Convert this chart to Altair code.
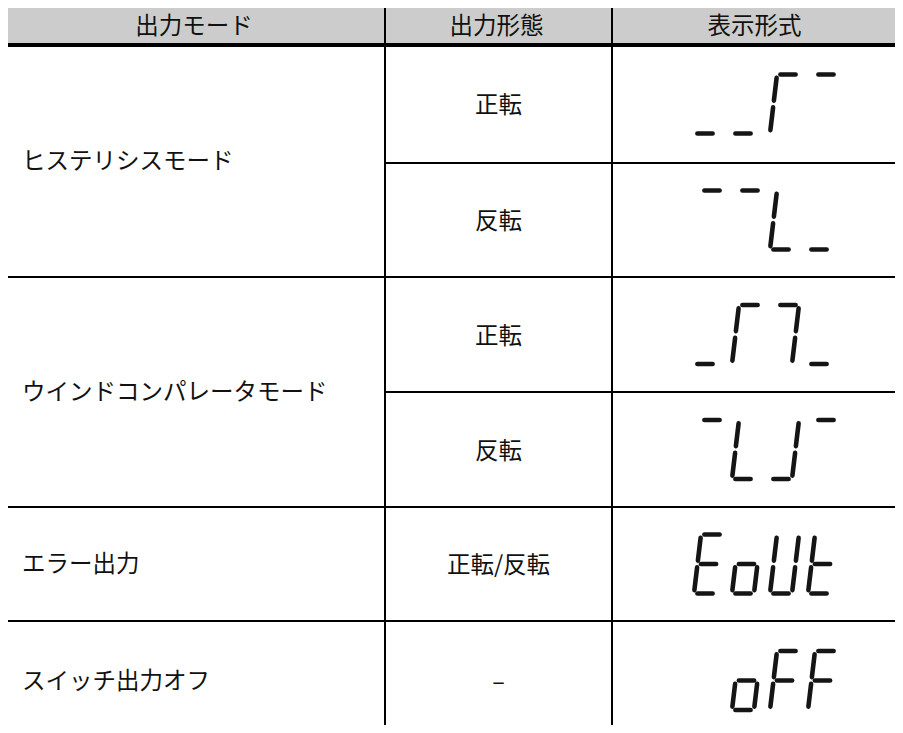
import math
import altair as alt
import pandas as pd

# ---------------- data ----------------
header_labels = ["出力モード", "出力形態", "表示形式"]
modes = ["ヒステリシスモード", "ウインドコンパレータモード", "エラー出力", "スイッチ出力オフ"]
mode_spans = [2, 2, 1, 1]          # how many sub-rows each mode covers
forms = ["正転", "反転", "正転", "反転", "正転/反転", "–"]
# lit segments (standard 7-segment names a-g) for the 4 digit positions of each display
displays = [
    ["d", "d", "aef", "a"],
    ["a", "a", "def", "d"],
    ["d", "aef", "abc", "d"],
    ["a", "def", "bcd", "a"],
    ["adefg", "cdeg", "bcdef", "defg"],
    ["", "cdeg", "aefg", "aefg"],
]

# ---------------- layout (page pixel coordinates) ----------------
COL_X = [7, 385, 612, 901]
HEAD_TOP, HEAD_BOT = 6, 45
ROW_EDGES = [45, 163, 277, 392, 507, 621, 740]
TABLE_BOTTOM = 740
FONT = "Noto Sans CJK JP"
FS = 23.5

# sub-row spans
form_rows = [(ROW_EDGES[i], ROW_EDGES[i + 1]) for i in range(len(forms))]
mode_rows = []
idx = 0
for sp in mode_spans:
    mode_rows.append((ROW_EDGES[idx], ROW_EDGES[idx + sp]))
    idx += sp

# ---------------- tables for marks ----------------
header_df = pd.DataFrame({
    "text": header_labels,
    "x": [(COL_X[i] + COL_X[i + 1]) / 2 - 2 for i in range(3)],
    "y": [(HEAD_TOP + HEAD_BOT) / 2 + 1] * 3,
})
mode_df = pd.DataFrame({
    "text": modes,
    "x": [22] * len(modes),
    "y": [(a + b) / 2 + 1 for a, b in mode_rows],
})
form_df = pd.DataFrame({
    "text": forms,
    "x": [(COL_X[1] + COL_X[2]) / 2] * len(forms),
    "y": [(a + b) / 2 + 2 for a, b in form_rows],
})

rules = []
rules.append((COL_X[0], COL_X[3], HEAD_TOP, HEAD_TOP, 2))
rules.append((COL_X[0], COL_X[3], HEAD_BOT, HEAD_BOT, 4))
for cx in COL_X[:3]:
    rules.append((cx, cx, HEAD_TOP, TABLE_BOTTOM, 2))
mode_bounds = set(b for _, b in mode_rows)
for _, b in form_rows[:-1]:
    if b in mode_bounds:
        rules.append((COL_X[0], COL_X[3], b, b, 2))
    else:
        rules.append((COL_X[1], COL_X[3], b, b, 2))
rules_df = pd.DataFrame(rules, columns=["x", "x2", "y", "y2", "w"])

head_rect_df = pd.DataFrame({"x": [COL_X[0]], "x2": [COL_X[3]], "y": [HEAD_TOP], "y2": [HEAD_BOT]})

# 7-segment geometry
H = 59.0
WC = 22.0
L = 2.0
SL = 7.0
GAP = 1.2
TAPER = 2.2
TH = 4.6
PITCH = 38.0
X0 = 692.0
ends = {
    "a": ((L, H), (L + WC, H)),
    "b": ((L + WC, H), (L + WC, H / 2)),
    "c": ((L + WC, H / 2), (L + WC, 0)),
    "d": ((L, 0), (L + WC, 0)),
    "e": ((L, 0), (L, H / 2)),
    "f": ((L, H / 2), (L, H)),
    "g": ((L, H / 2), (L + WC, H / 2)),
}
seg_rows = []
sid = 0
for r, chars in enumerate(displays):
    ya, yb = form_rows[r]
    yc = (ya + yb) / 2
    for i, segs in enumerate(chars):
        x0 = X0 + PITCH * i
        for s in segs:
            (ax, ay), (bx, by) = ends[s]
            dx, dy = bx - ax, by - ay
            ln = math.hypot(dx, dy)
            ux, uy = dx / ln, dy / ln
            pts = [(GAP, 0.7), (GAP + TAPER, TH), (ln - GAP - TAPER, TH), (ln - GAP, 0.7)]
            for k, (dist, w) in enumerate(pts):
                lx = ax + ux * dist
                ly = ay + uy * dist
                seg_rows.append({
                    "sid": sid, "k": k,
                    "x": x0 + lx + SL * ly / H,
                    "y": yc + H / 2 - ly,
                    "w": w,
                })
            sid += 1
seg_df = pd.DataFrame(seg_rows)

# ---------------- chart ----------------
# 1 data unit = 1 page pixel; the page margin is 8px
PW, PH = 887, 717
xs = alt.Scale(domain=[8, 8 + PW], nice=False, zero=False)
ys = alt.Scale(domain=[8, 8 + PH], nice=False, zero=False, reverse=True)
X = alt.X("x:Q", scale=xs, axis=None)
Y = alt.Y("y:Q", scale=ys, axis=None)

head_rect = alt.Chart(head_rect_df).mark_rect(color="#cccccc").encode(
    x=X, x2="x2:Q", y=Y, y2="y2:Q")

rule_layer = alt.Chart(rules_df).mark_rule(color="#000000", strokeCap="square").encode(
    x=X, x2="x2:Q", y=Y, y2="y2:Q",
    strokeWidth=alt.StrokeWidth("w:Q", scale=None, legend=None))

header_text = alt.Chart(header_df).mark_text(
    font=FONT, fontSize=FS, color="#111111", align="center", baseline="middle"
).encode(x=X, y=Y, text="text:N")

mode_text = alt.Chart(mode_df).mark_text(
    font=FONT, fontSize=FS, color="#111111", align="left", baseline="middle"
).encode(x=X, y=Y, text="text:N")

form_text = alt.Chart(form_df).mark_text(
    font=FONT, fontSize=FS, color="#111111", align="center", baseline="middle"
).encode(x=X, y=Y, text="text:N")

segments = alt.Chart(seg_df).mark_trail(color="#151515").encode(
    x=X, y=Y,
    detail="sid:N",
    order="k:Q",
    size=alt.Size("w:Q", scale=None, legend=None),
)

chart = alt.layer(
    head_rect, rule_layer, header_text, mode_text, form_text, segments
).properties(
    width=PW, height=PH, padding=0, autosize="none", background="white"
).configure_view(stroke=None)

chart.save("out.html", embed_options={"renderer": "svg", "actions": False})
